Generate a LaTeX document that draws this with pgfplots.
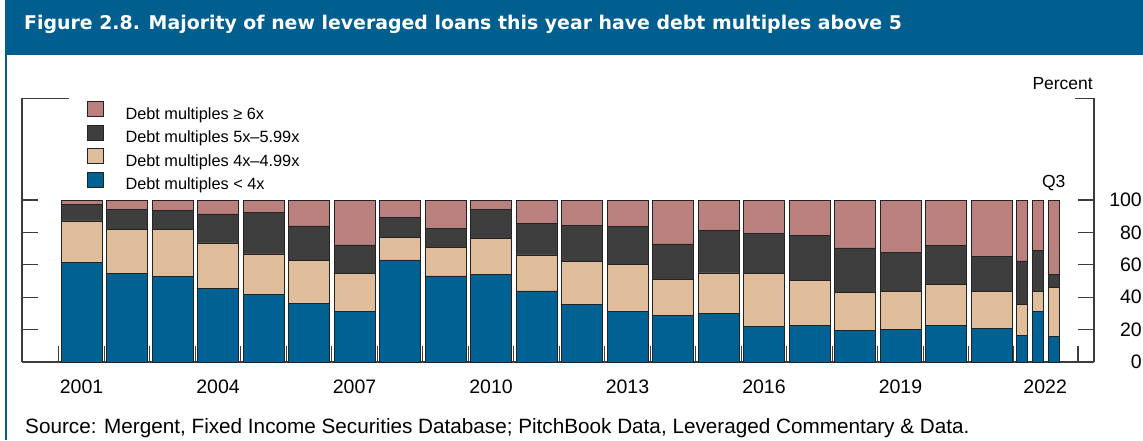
\documentclass[border=0pt]{standalone}
\usepackage{fontspec}
\setmainfont{Liberation Sans}
\newfontfamily\titlefont{DejaVu Sans}
\usepackage{pgfplots}
\usepackage{pgfplotstable}
\pgfplotsset{compat=1.18}

\definecolor{titleblue}{RGB}{0,95,143}
\definecolor{cblue}{RGB}{0,98,146}
\definecolor{ctan}{RGB}{223,188,154}
\definecolor{cdark}{RGB}{62,62,62}
\definecolor{cpink}{RGB}{186,128,125}
\definecolor{axisgray}{RGB}{60,60,60}
\definecolor{barline}{RGB}{35,35,35}

% x = year - 2000
\pgfplotstableread{
x blue tan dark pink
1 61.2 25.9 10.4 2.5
2 54.6 27.3 12.4 5.7
3 52.6 29.3 11.5 6.6
4 45.2 28.3 17.9 8.6
5 41.7 25.0 25.5 7.8
6 36.3 26.3 21.4 16.0
7 31.0 23.8 17.5 27.7
8 63.0 14.0 12.3 10.7
9 53.1 17.6 11.5 17.8
10 53.8 22.4 18.1 5.7
11 43.9 22.2 19.5 14.4
12 35.7 26.5 22.2 15.6
13 31.4 29.0 23.2 16.4
14 28.5 22.6 21.8 27.1
15 30.2 24.8 26.5 18.5
16 22.0 32.4 24.7 20.9
17 22.6 27.5 27.9 22.0
18 19.3 23.8 27.3 29.6
19 20.3 23.4 23.7 32.6
20 22.4 25.4 24.1 28.1
21 20.7 23.0 21.2 35.1
}\annual

% 2022 Q1, Q2, Q3
\pgfplotstableread{
x blue tan dark pink
21.672 16.2 19.3 26.9 37.6
22.018 31.2 12.5 25.1 31.2
22.369 15.6 30.4 7.8 46.2
}\quarterly

\pgfplotsset{
  frame/.style={
    scale only axis, width=1072pt, height=264pt,
    at={(22pt,78pt)}, anchor=south west,
    xmin=-0.308, xmax=23.253, ymin=0, ymax=163,
    ybar stacked,
    /pgf/number format/assume math mode=true,
    axis line style={draw=axisgray, line width=1.3pt},
    tick style={draw=axisgray, line width=1.3pt},
    tick align=inside,
    major tick length=16pt,
    ticklabel style={font=\fontsize{19.5}{21}\selectfont},
  }
}

\begin{document}
\begin{tikzpicture}
\useasboundingbox (0,0) rectangle (1143pt,440pt);
\fill[titleblue] (5pt,385pt) rectangle (1143pt,440pt);
\draw[titleblue, line width=2pt] (6pt,386pt) -- (6pt,0pt);
\node[anchor=base west, inner sep=0, text=white, font=\titlefont\bfseries\fontsize{18.9}{22}\selectfont] at (24pt,410pt) {Figure 2.8. Majority of new leveraged loans this year have debt multiples above 5};
\node[anchor=base west, inner sep=0, font=\fontsize{20.7}{23}\selectfont] at (25pt,7pt) {Source: Mergent, Fixed Income Securities Database; PitchBook Data, Leveraged Commentary \& Data.};
\node[anchor=base east, inner sep=0, font=\fontsize{17.5}{20}\selectfont] at (1093pt,350pt) {Percent};

\begin{axis}[frame, bar width=0.9,
  axis x line*=bottom, axis y line*=right,
  xtick={0.5,1.5,...,20.5,21.49,22.9},
  xticklabels={},
  extra x ticks={1,4,7,10,13,16,19,22.18},
  extra x tick labels={2001,2004,2007,2010,2013,2016,2019,2022},
  extra x tick style={major tick length=0pt, tick style={draw=none}},
  xticklabel style={yshift=-14.5pt},
  ytick={0,20,...,100},
  yticklabel style={anchor=east, inner sep=0pt, xshift=48pt},
  reverse legend,
  legend cell align=left,
  legend style={at={(rel axis cs:0,1)}, anchor=north west, xshift=65pt, yshift=-3pt,
    draw=none, fill=none, inner sep=0pt, row sep=2pt,
    font=\fontsize{16.3}{18}\selectfont,
    /tikz/every odd column/.append style={column sep=20pt}},
  legend image code/.code={\draw[#1] (0pt,-2.5pt) rectangle (15.5pt,12.5pt);},
]
\addplot[fill=cblue, draw=barline, line width=0.8pt] table[x=x, y=blue]{\annual};
\addplot[fill=ctan, draw=barline, line width=0.8pt] table[x=x, y=tan]{\annual};
\addplot[fill=cdark, draw=barline, line width=0.8pt] table[x=x, y=dark]{\annual};
\addplot[fill=cpink, draw=barline, line width=0.8pt] table[x=x, y=pink]{\annual};
\legend{Debt multiples < 4x, Debt multiples 4x–4.99x, Debt multiples 5x–5.99x, Debt multiples ≥ 6x}
\draw[axisgray, line width=1.3pt] (rel axis cs:1,1) -- ++(-33pt,0);
\end{axis}

\begin{axis}[frame, bar width=0.242,
  axis x line=none, axis y line*=left,
  ytick={20,40,...,100}, yticklabels={},
]
\addplot[fill=cblue, draw=barline, line width=0.8pt] table[x=x, y=blue]{\quarterly};
\addplot[fill=ctan, draw=barline, line width=0.8pt] table[x=x, y=tan]{\quarterly};
\addplot[fill=cdark, draw=barline, line width=0.8pt] table[x=x, y=dark]{\quarterly};
\addplot[fill=cpink, draw=barline, line width=0.8pt] table[x=x, y=pink]{\quarterly};
\draw[axisgray, line width=1.3pt] (rel axis cs:0,1) -- ++(33pt,0);
\node[anchor=base, inner sep=0, font=\fontsize{17.5}{20}\selectfont] at (axis cs:22.369,108) {Q3};
\end{axis}
\end{tikzpicture}
\end{document}
